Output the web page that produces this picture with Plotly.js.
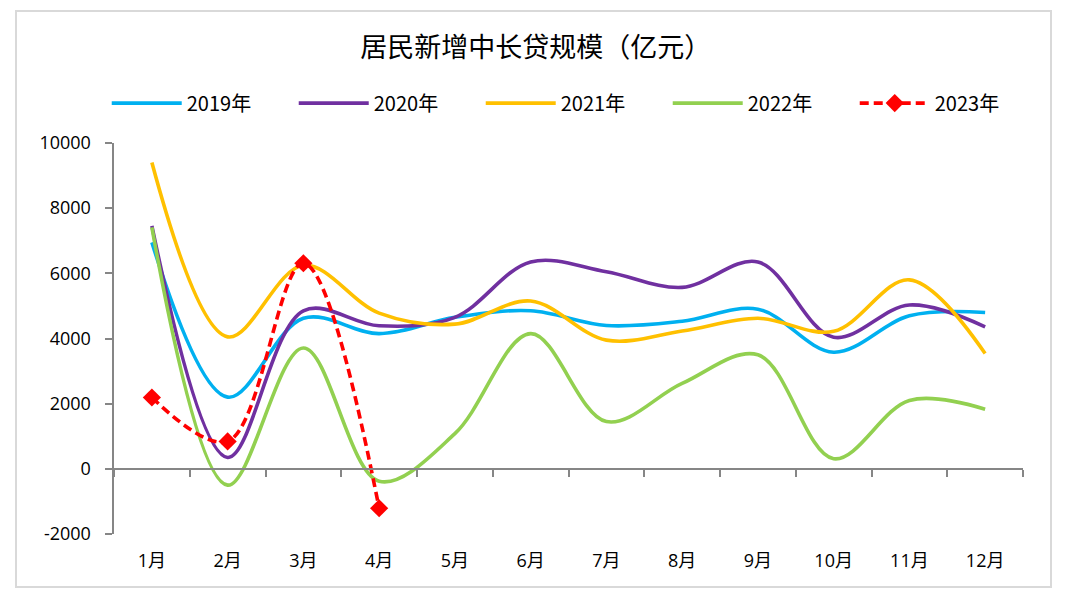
<!DOCTYPE html>
<html>
<head>
<meta charset="utf-8">
<script src="https://cdn.plot.ly/plotly-3.0.1.min.js"></script>
<style>
  html, body { margin: 0; padding: 0; background: #fff; }
  #wrap { position: relative; width: 1080px; height: 604px; }
  #chart { width: 1080px; height: 604px; }
  #frame { position: absolute; left: 15px; top: 10px; width: 1033px; height: 574px;
           border: 2px solid #d9d9d9; pointer-events: none; }
</style>
</head>
<body>
<div id="wrap">
  <div id="chart"></div>
  <div id="frame"></div>
</div>
<script>
const months = ['1月','2月','3月','4月','5月','6月','7月','8月','9月','10月','11月','12月'];
const y2019 = [6950, 2200, 4620, 4150, 4650, 4850, 4400, 4530, 4900, 3580, 4700, 4800];
const y2020 = [7460, 350, 4850, 4390, 4650, 6350, 6050, 5570, 6350, 4040, 5030, 4360];
const y2021 = [9400, 4050, 6250, 4780, 4440, 5150, 3950, 4230, 4620, 4220, 5800, 3540];
const y2022 = [7410, -500, 3710, -380, 1080, 4150, 1450, 2620, 3500, 310, 2100, 1830];
const y2023 = [2190, 840, 6310, -1210];
const seriesNames = ['2019年','2020年','2021年','2022年','2023年'];
const yTicks = [-2000, 0, 2000, 4000, 6000, 8000, 10000];

const colors = ['#00B0F0', '#7030A0', '#FFC000', '#92D050', '#FF0000'];
const solid = [y2019, y2020, y2021, y2022];

const traces = solid.map((d, i) => ({
  type: 'scatter', mode: 'lines', x: months, y: d, name: seriesNames[i],
  line: { color: colors[i], width: 3.6, shape: 'spline', smoothing: 1 },
  hoverinfo: 'x+y+name'
}));
traces.push({
  type: 'scatter', mode: 'lines+markers', x: months.slice(0, y2023.length), y: y2023,
  name: seriesNames[4],
  line: { color: colors[4], width: 3.6, dash: '9px,5px', shape: 'spline', smoothing: 1 },
  marker: { symbol: 'diamond', size: 14, color: colors[4] }
});

const tickFont = { family: '"Open Sans", "Noto Sans CJK SC", sans-serif', size: 18, color: '#000' };

const layout = {
  width: 1080, height: 604,
  margin: { l: 114, r: 57, t: 143, b: 70 },
  paper_bgcolor: '#fff', plot_bgcolor: '#fff',
  title: {
    text: '居民新增中长贷规模（亿元）',
    font: { family: '"Noto Sans CJK SC", sans-serif', size: 27, color: '#000' },
    x: 0.496, xref: 'container', xanchor: 'center',
    y: 0.922, yref: 'container', yanchor: 'middle'
  },
  showlegend: true,
  legend: {
    orientation: 'h', x: -0.008, xanchor: 'left', y: 1.102, yanchor: 'middle',
    font: { family: '"Liberation Sans Narrow", "Noto Sans CJK SC", sans-serif', size: 20, color: '#000' },
    entrywidth: 102, entrywidthmode: 'pixels', itemwidth: 70,
    bgcolor: 'rgba(0,0,0,0)', traceorder: 'normal'
  },
  xaxis: {
    type: 'category', categoryarray: months, range: [-0.5, 11.5],
    anchor: 'free', position: 2000 / 12000,
    showline: true, linecolor: '#868686', linewidth: 2.5,
    ticks: 'outside', tickson: 'boundaries', ticklen: 7, tickwidth: 2, tickcolor: '#868686',
    showgrid: false, zeroline: false,
    tickfont: tickFont, ticklabelstandoff: 75, automargin: false
  },
  yaxis: {
    range: [-2000, 10000], tickvals: yTicks, ticktext: yTicks.map(String),
    showline: true, linecolor: '#868686', linewidth: 2.5,
    ticks: 'outside', ticklen: 7, tickwidth: 2, tickcolor: '#868686',
    showgrid: false, zeroline: false,
    tickfont: tickFont, ticklabelstandoff: 10, automargin: false
  }
};

Plotly.newPlot('chart', traces, layout, { displayModeBar: false, staticPlot: true });
</script>
</body>
</html>
